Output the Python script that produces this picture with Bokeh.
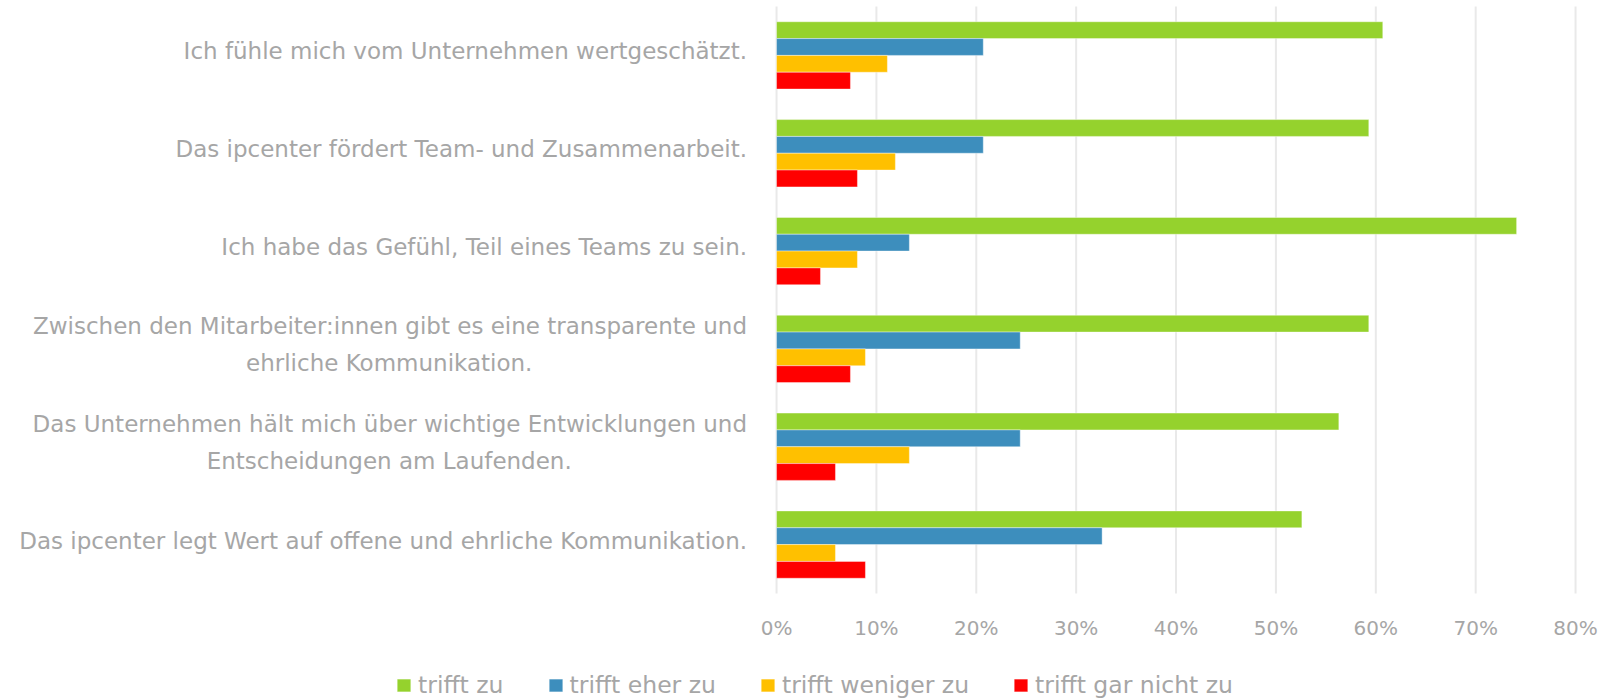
from bokeh.plotting import figure
from bokeh.models import (Range1d, Legend, LegendItem, NumeralTickFormatter,
                          FixedTicker, ColumnDataSource, LabelSet)
from bokeh.core.properties import value
from bokeh.transform import dodge
from bokeh.embed import file_html
from bokeh.resources import INLINE

statements = [
    "Ich fühle mich vom Unternehmen wertgeschätzt.",
    "Das ipcenter fördert Team- und Zusammenarbeit.",
    "Ich habe das Gefühl, Teil eines Teams zu sein.",
    "Zwischen den Mitarbeiter:innen gibt es eine transparente und\nehrliche Kommunikation.",
    "Das Unternehmen hält mich über wichtige Entwicklungen und\nEntscheidungen am Laufenden.",
    "Das ipcenter legt Wert auf offene und ehrliche Kommunikation.",
]
series_names = ["trifft zu", "trifft eher zu", "trifft weniger zu", "trifft gar nicht zu"]
trifft_zu = [0.607, 0.593, 0.741, 0.593, 0.563, 0.526]
trifft_eher_zu = [0.207, 0.207, 0.133, 0.244, 0.244, 0.326]
trifft_weniger_zu = [0.111, 0.119, 0.081, 0.089, 0.133, 0.059]
trifft_gar_nicht_zu = [0.074, 0.081, 0.044, 0.074, 0.059, 0.089]
x_ticks = [0.0, 0.1, 0.2, 0.3, 0.4, 0.5, 0.6, 0.7, 0.8]

colors = ["#95d22d", "#3d8ebd", "#ffc000", "#ff0000"]
TEXT = "#a6a6a6"
GRID = "#e9e9e9"
FONT = "DejaVu Sans"

# one unit per statement, first statement on top
n = len(statements)
ypos = [n - 0.5 - i for i in range(n)]

src = ColumnDataSource(dict(
    y=ypos, cat=statements,
    s0=trifft_zu, s1=trifft_eher_zu, s2=trifft_weniger_zu, s3=trifft_gar_nicht_zu,
))

# the frame covers the whole canvas; the label column and legend live inside it
p = figure(
    width=1610, height=700,
    x_range=Range1d(-0.777, 0.835),
    y_range=Range1d(-1.0937, 6.0613),
    output_backend="svg", toolbar_location=None,
    min_border=0,
)
p.outline_line_color = None
p.background_fill_color = "white"
p.grid.visible = False

# vertical gridlines spanning only the category band
p.segment(x0=x_ticks, x1=x_ticks, y0=0, y1=n, line_color=GRID, line_width=2, level="underlay")

bar_h = 0.172
offsets = [1.5 * bar_h, 0.5 * bar_h, -0.5 * bar_h, -1.5 * bar_h]
renderers = []
for i, (name, col) in enumerate(zip(series_names, ["s0", "s1", "s2", "s3"])):
    r = p.hbar(y=dodge("y", offsets[i]), right=col, left=0, height=bar_h,
               source=src, fill_color=colors[i], line_color="white", line_alpha=0.4, line_width=1)
    renderers.append(r)

ax = p.xaxis[0]
ax.fixed_location = 0
ax.ticker = FixedTicker(ticks=x_ticks)
ax.formatter = NumeralTickFormatter(format="0%")
ax.axis_line_color = None
ax.major_tick_line_color = None
ax.minor_tick_line_color = None
ax.major_tick_out = 0
ax.major_tick_in = 0
ax.major_label_text_color = TEXT
ax.major_label_text_font = FONT
ax.major_label_text_font_size = "20px"
ax.major_label_standoff = 23
p.yaxis.visible = False

# category labels: first line right-aligned, second line centred under the first
first_lines = [s.split("\n")[0] for s in statements]
first_off = [22.5 if "\n" in s else 4 for s in statements]
two_idx = [i for i, s in enumerate(statements) if "\n" in s]
second_lines = [statements[i].split("\n")[1] for i in two_idx]

lab1 = LabelSet(x=0, y="y", text="text", y_offset="yoff", x_offset=-29.5,
                source=ColumnDataSource(dict(y=ypos, text=first_lines, yoff=first_off)),
                text_align="right", text_baseline="middle",
                text_font=value(FONT), text_font_size="23px", text_color=TEXT)
lab2 = LabelSet(x=0, y="y", text="text", y_offset=-14.5, x_offset=-387.3,
                source=ColumnDataSource(dict(y=[ypos[i] for i in two_idx], text=second_lines)),
                text_align="center", text_baseline="middle",
                text_font=value(FONT), text_font_size="23px", text_color=TEXT)
p.add_layout(lab1)
p.add_layout(lab2)

legend = Legend(
    items=[LegendItem(label=nm, renderers=[r]) for nm, r in zip(series_names, renderers)],
    orientation="horizontal", location=(395, 1),
    glyph_width=17, glyph_height=16, label_standoff=6, spacing=43,
    padding=0, margin=0,
    border_line_color=None, background_fill_alpha=0,
    label_text_font=FONT, label_text_font_size="23.5px", label_text_color=TEXT,
)
p.add_layout(legend, "center")

open("out.html", "w").write(file_html(p, INLINE))
